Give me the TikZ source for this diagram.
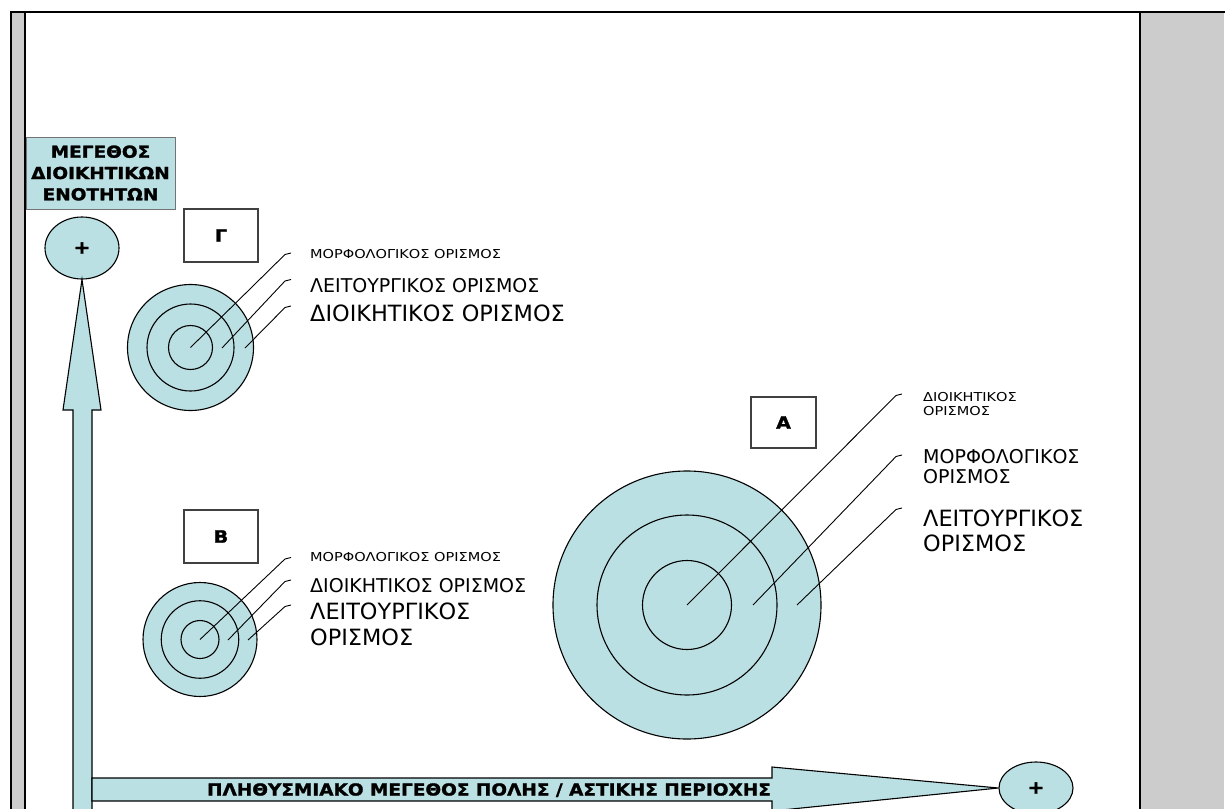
\documentclass[tikz,border=0pt]{standalone}
\usepackage{fontspec}
\setmainfont{DejaVu Sans}
\newfontfamily\smallfnt{DejaVu Sans}[FakeStretch=1.18]
\newfontfamily\boldfnt{DejaVu Sans Bold}[FakeStretch=1.12, FakeBold=1.6]
\usetikzlibrary{shapes.geometric,calc}
\definecolor{paleblue}{RGB}{187,224,227}
\definecolor{panelgray}{RGB}{204,204,204}

\tikzset{
  disc/.style={circle, draw=black, line width=1.1pt, fill=paleblue, inner sep=0pt},
  plusnode/.style={ellipse, draw=black, line width=1.1pt, fill=paleblue, inner sep=0pt,
    font=\boldfnt\fontsize{18}{18}\selectfont},
  letterbox/.style={draw=black!75, line width=1.1pt, fill=white, minimum width=74pt,
    minimum height=53pt, inner sep=0pt, font=\boldfnt\fontsize{17}{17}\selectfont},
  axisbox/.style={draw=black!55, line width=1pt, fill=paleblue, inner sep=0pt, align=center,
    font=\boldfnt\fontsize{16.5}{21.3}\selectfont},
  blockarrow/.style={draw=black, line width=1.1pt, fill=paleblue, line join=miter},
  leader/.style={draw=black, line width=0.9pt},
  txtS/.style={anchor=base west, inner sep=0pt, font=\smallfnt\fontsize{12.3}{12.3}\selectfont},
  txtM/.style={anchor=base west, inner sep=0pt, font=\fontsize{19}{19}\selectfont},
  txtL/.style={anchor=base west, inner sep=0pt, font=\fontsize{22.4}{22.4}\selectfont},
  axistext/.style={anchor=base, inner sep=0pt, font=\boldfnt\fontsize{16.5}{16.5}\selectfont},
}

\begin{document}
\begin{tikzpicture}[x=1pt, y=-1pt]
  \useasboundingbox (0,0) rectangle (1225,808);
  \clip (0,0) rectangle (1225,808);

  % table frame: grey side columns and black rules
  \fill[panelgray] (12,13) rectangle (24.5,810);
  \fill[panelgray] (1141,13) rectangle (1224,810);
  \draw[line width=2.8pt] (11,812) -- (11,12) -- (1227,12);
  \draw[line width=1.5pt] (25,13) -- (25,812);
  \draw[line width=2.8pt] (1140,12) -- (1140,812);

  % vertical axis
  \node[plusnode, minimum width=74pt, minimum height=62pt] (yplus) at (82,248) {+};
  \draw[blockarrow] (73,815) -- (73,410) -- (63,410) -- (yplus.south) -- (101,410)
    -- (92,410) -- (92,815) -- cycle;
  \node[axisbox, minimum width=149pt, minimum height=72pt] (ylabel) at (100.5,173)
    {ΜΕΓΕΘΟΣ\\ΔΙΟΙΚΗΤΙΚΩΝ\\ΕΝΟΤΗΤΩΝ};

  % horizontal axis
  \node[plusnode, minimum width=74pt, minimum height=52pt] (xplus) at (1036,788) {+};
  \draw[blockarrow] (92,778) -- (772,778) -- (772,767) -- (xplus.west) -- (772,811)
    -- (772,801) -- (92,801) -- cycle;
  \node[axistext] (xlabel) at (489,795.5) {ΠΛΗΘΥΣΜΙΑΚΟ ΜΕΓΕΘΟΣ ΠΟΛΗΣ / ΑΣΤΙΚΗΣ ΠΕΡΙΟΧΗΣ};

  % case labels
  \node[letterbox] (boxG) at (221,235.5) {Γ};
  \node[letterbox] (boxB) at (221,536.5) {Β};
  \node[letterbox, minimum width=65pt, minimum height=51pt] (boxA) at (783.5,422.5) {Α};

  % case Γ
  \node[disc, minimum size=126pt] (gOut) at (190.5,347.5) {};
  \node[disc, minimum size=87pt]  (gMid) at (190.5,347.5) {};
  \node[disc, minimum size=44pt]  (gIn)  at (190.5,347.5) {};
  \coordinate (gS2) at (222,348);
  \coordinate (gS3) at (245,348);
  \coordinate (gE1) at (291,253);
  \coordinate (gE2) at (291,279.5);
  \coordinate (gE3) at (291,306);
  \draw[leader] (gIn.center) -- ($(gE1)+(-6,1.5)$) -- (gE1);
  \draw[leader] (gS2) -- ($(gE2)+(-6,1.5)$) -- (gE2);
  \draw[leader] (gS3) -- ($(gE3)+(-6,1.5)$) -- (gE3);
  \node[txtS] (gT1) at (310,258) {ΜΟΡΦΟΛΟΓΙΚΟΣ ΟΡΙΣΜΟΣ};
  \node[txtM] (gT2) at (310,292) {ΛΕΙΤΟΥΡΓΙΚΟΣ ΟΡΙΣΜΟΣ};
  \node[txtL] (gT3) at (310,321) {ΔΙΟΙΚΗΤΙΚΟΣ ΟΡΙΣΜΟΣ};

  % case Β
  \node[disc, minimum size=114pt] (bOut) at (200,639.5) {};
  \node[disc, minimum size=77.5pt] (bMid) at (200,639.5) {};
  \node[disc, minimum size=38pt]  (bIn)  at (200,639.5) {};
  \coordinate (bS2) at (228,640);
  \coordinate (bS3) at (248,640);
  \coordinate (bE1) at (291,557.5);
  \coordinate (bE2) at (291,580);
  \coordinate (bE3) at (291,605);
  \draw[leader] (bIn.center) -- ($(bE1)+(-6,1.5)$) -- (bE1);
  \draw[leader] (bS2) -- ($(bE2)+(-6,1.5)$) -- (bE2);
  \draw[leader] (bS3) -- ($(bE3)+(-6,1.5)$) -- (bE3);
  \node[txtS] (bT1) at (310,561.5) {ΜΟΡΦΟΛΟΓΙΚΟΣ ΟΡΙΣΜΟΣ};
  \node[txtM] (bT2) at (310,592.5) {ΔΙΟΙΚΗΤΙΚΟΣ ΟΡΙΣΜΟΣ};
  \node[txtL] (bT3a) at (310,619) {ΛΕΙΤΟΥΡΓΙΚΟΣ};
  \node[txtL] (bT3b) at (310,645.5) {ΟΡΙΣΜΟΣ};

  % case Α
  \node[disc, minimum size=268pt] (aOut) at (687,605) {};
  \node[disc, minimum size=180pt] (aMid) at (687,605) {};
  \node[disc, minimum size=89pt]  (aIn)  at (687,605) {};
  \coordinate (aS2) at (753,605);
  \coordinate (aS3) at (797,605);
  \coordinate (aE1) at (902,394);
  \coordinate (aE2) at (902,455);
  \coordinate (aE3) at (902,508);
  \draw[leader] (aIn.center) -- ($(aE1)+(-6,1.5)$) -- (aE1);
  \draw[leader] (aS2) -- ($(aE2)+(-6,1.5)$) -- (aE2);
  \draw[leader] (aS3) -- ($(aE3)+(-6,1.5)$) -- (aE3);
  \node[txtS] (aT1a) at (923,401.7) {ΔΙΟΙΚΗΤΙΚΟΣ};
  \node[txtS] (aT1b) at (923,415) {ΟΡΙΣΜΟΣ};
  \node[txtM] (aT2a) at (923,463.5) {ΜΟΡΦΟΛΟΓΙΚΟΣ};
  \node[txtM] (aT2b) at (923,483.5) {ΟΡΙΣΜΟΣ};
  \node[txtL] (aT3a) at (923,526.7) {ΛΕΙΤΟΥΡΓΙΚΟΣ};
  \node[txtL] (aT3b) at (923,551.7) {ΟΡΙΣΜΟΣ};
\end{tikzpicture}
\end{document}
